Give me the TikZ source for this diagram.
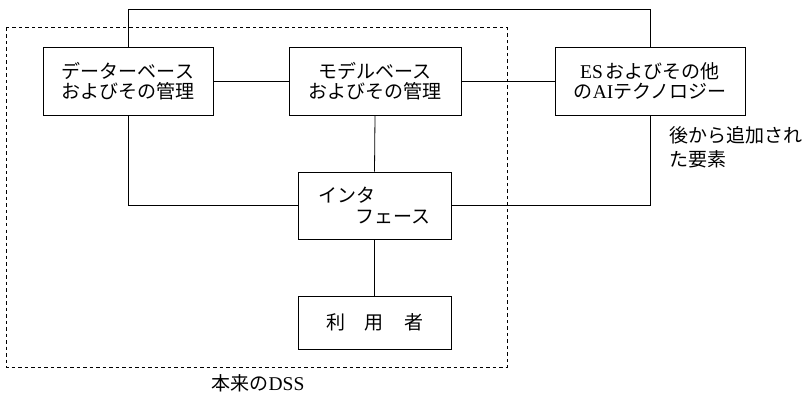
\documentclass[tikz,border=0pt]{standalone}
\usepackage{fontspec}
\newfontfamily\jp{Noto Sans CJK JP}
\newfontfamily\lat{Liberation Serif}
\newcommand{\latx}[1]{{\lat\fontsize{19.5}{20}\selectfont #1}}
\tikzset{
  box/.style={draw, line width=0.8pt, inner sep=0pt, align=center,
    font={\jp\fontsize{19}{20.5}\selectfont}},
  conn/.style={line width=0.8pt},
  dssframe/.style={line width=1pt, dash pattern=on 3.5pt off 3pt},
  lbl/.style={inner sep=0pt, font={\jp\fontsize{19}{24}\selectfont}}
}
\begin{document}
\begin{tikzpicture}[x=1pt,y=-1pt]
\useasboundingbox (0,0) rectangle (810,395);
% dashed frame of the original DSS
\draw[dssframe] (6,28) rectangle (507,367);
% boxes
\node[box, minimum width=170pt, minimum height=68pt] (db) at (128,81) {データーベース\\およびその管理};
\node[box, minimum width=172pt, minimum height=68pt] (mb) at (375,81) {モデルベース\\およびその管理};
\node[box, minimum width=190pt, minimum height=68pt] (es) at (650,81) {\latx{ES}\hspace{3pt}およびその他\\の\latx{AI}テクノロジー};
\node[box, minimum width=153pt, minimum height=67pt, align=left] (intf) at (374.5,205.5) {インタ\\\hspace*{37pt}フェース};
\node[box, minimum width=153pt, minimum height=53pt] (user) at (374.5,322.5) {利\hspace{20pt}用\hspace{20pt}者};
% labels
\node[lbl, anchor=west, align=left] (added) at (669,147) {後から追加され\\た要素};
\node[lbl] (dsslbl) at (258,383) {本来の\latx{DSS}};
% connectors
\coordinate (topy) at (0,9);
\draw[conn] (db.east) -- (mb.west);
\draw[conn] (mb.east) -- (es.west);
\draw[conn] (mb.south) -- (intf.north);
\draw[conn] (intf.south) -- (user.north);
\draw[conn] (db.south) |- (intf.west);
\draw[conn] (es.south) |- (intf.east);
\draw[conn] (db.north) |- (es.north |- topy) -- (es.north);
\end{tikzpicture}
\end{document}
